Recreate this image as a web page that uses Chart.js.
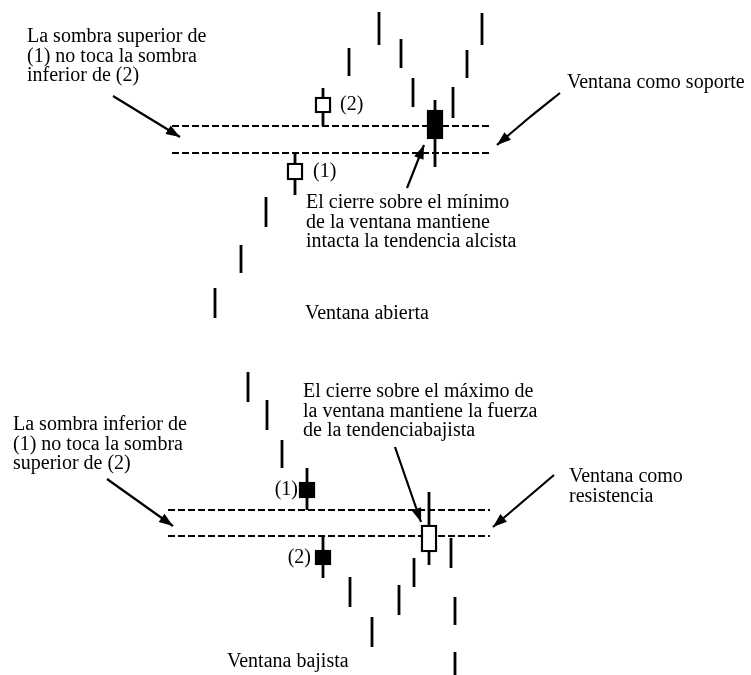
<!DOCTYPE html>
<html>
<head>
<meta charset="utf-8">
<script src="https://cdn.jsdelivr.net/npm/chart.js@4/dist/chart.umd.min.js"></script>
<style>
  html, body { margin: 0; padding: 0; background: #ffffff; }
  #wrap { width: 751px; height: 675px; }
</style>
</head>
<body>
<div id="wrap"><canvas id="c" width="751" height="675"></canvas></div>
<script>
// ---------- DATA (price units) ----------
// Upper panel: rising window ("Ventana abierta") acting as support
const upDays  = [215, 241, 266, 295, 323, 349, 379, 401, 413, 435, 453, 467, 482];
const upHigh  = [387, 430, 478, 522, 587, 627, 663, 636, 597, 575, 588, 625, 662];
const upLow   = [357, 402, 448, 480, 549, 599, 630, 607, 568, 508, 557, 597, 630];
const upBodyDays  = [295, 323, 435];
const upBodyOpen  = [495, 562, 565];
const upBodyClose = [512, 578, 536];

// Lower panel: falling window ("Ventana bajista") acting as resistance
const downDays  = [248, 267, 282, 307, 323, 350, 372, 399, 414, 429, 451, 455, 455];
const downHigh  = [303, 275, 235, 207, 139, 98, 58, 90, 117, 183, 137, 78, 23];
const downLow   = [273, 245, 207, 165, 97, 68, 28, 60, 88, 110, 107, 50, 0];
const downBodyDays  = [307, 323, 429];
const downBodyOpen  = [193, 125, 123];
const downBodyClose = [177, 110, 150];

// Window candles (1) and (2): index in the day arrays
const upGapIdx = [3, 4];     // (1) high / (2) low bound the rising window
const downGapIdx = [3, 4];   // (1) low / (2) high bound the falling window
const upWindowSpan = [172, 492];
const downWindowSpan = [168, 490];

// ---------- ANNOTATIONS ----------
const notes = [
  { x: 27,  y: 633, lines: ["La sombra superior de", "(1) no toca la sombra", "inferior de (2)"] },
  { x: 567, y: 587, lines: ["Ventana como soporte"] },
  { x: 306, y: 467, lines: ["El cierre sobre el mínimo", "de la ventana mantiene", "intacta la tendencia alcista"] },
  { x: 305, y: 356, lines: ["Ventana abierta"] },
  { x: 303, y: 278, lines: ["El cierre sobre el máximo de", "la ventana mantiene la fuerza", "de la tendenciabajista"] },
  { x: 13,  y: 245, lines: ["La sombra inferior de", "(1) no toca la sombra", "superior de (2)"] },
  { x: 569, y: 193, lines: ["Ventana como", "resistencia"] },
  { x: 227, y: 8,   lines: ["Ventana bajista"] },
  { x: 340, y: 565, lines: ["(2)"] },
  { x: 313, y: 498, lines: ["(1)"] },
  { x: 298, y: 180, lines: ["(1)"], align: "right" },
  { x: 311, y: 112, lines: ["(2)"], align: "right" }
];
const arrows = [
  [[113, 579], [180, 538]],
  [[560, 582], [530, 558], [497, 530]],
  [[407, 487], [424, 530]],
  [[107, 196], [173, 149]],
  [[554, 200], [493, 148]],
  [[395, 228], [421, 153]]
];

// ---------- BUILD DATASETS ----------
function wickPoints(days, high, low) {
  const pts = [];
  days.forEach((d, i) => {
    pts.push({ x: d, y: high[i] }, { x: d, y: low[i] }, { x: d, y: null });
  });
  return pts;
}
function bodyPoints(days, open, close) {
  return days.map((d, i) => ({ x: d, y: [open[i], close[i]], up: close[i] > open[i] }));
}
function windowPoints(span, a, b) {
  return [
    { x: span[0], y: a }, { x: span[1], y: a }, { x: span[1], y: null },
    { x: span[0], y: b }, { x: span[1], y: b }
  ];
}
function arrowPoints() {
  const pts = [];
  arrows.forEach(a => { a.forEach(p => pts.push({ x: p[0], y: p[1] })); pts.push({ x: a[0][0], y: null }); });
  return pts;
}

const upWinLow = upHigh[upGapIdx[0]];
const upWinHigh = upLow[upGapIdx[1]];
const dnWinHigh = downLow[downGapIdx[0]];
const dnWinLow = downHigh[downGapIdx[1]];

const bodies = bodyPoints(upBodyDays, upBodyOpen, upBodyClose)
  .concat(bodyPoints(downBodyDays, downBodyOpen, downBodyClose));

const annotPlugin = {
  id: 'annot',
  afterDatasetsDraw(chart) {
    const ctx = chart.ctx, xs = chart.scales.x, ys = chart.scales.y;
    ctx.save();
    ctx.fillStyle = '#000';
    // arrowheads
    arrows.forEach(a => {
      const p1 = a[a.length - 2], p2 = a[a.length - 1];
      const x1 = xs.getPixelForValue(p1[0]), y1 = ys.getPixelForValue(p1[1]);
      const x2 = xs.getPixelForValue(p2[0]), y2 = ys.getPixelForValue(p2[1]);
      const ang = Math.atan2(y2 - y1, x2 - x1);
      const L = 14, W = 5;
      ctx.beginPath();
      ctx.moveTo(x2, y2);
      ctx.lineTo(x2 - L * Math.cos(ang) + W * Math.sin(ang), y2 - L * Math.sin(ang) - W * Math.cos(ang));
      ctx.lineTo(x2 - L * Math.cos(ang) - W * Math.sin(ang), y2 - L * Math.sin(ang) + W * Math.cos(ang));
      ctx.closePath();
      ctx.fill();
    });
    // texts
    ctx.font = '20px "Liberation Serif", "Times New Roman", serif';
    ctx.textBaseline = 'alphabetic';
    notes.forEach(n => {
      ctx.textAlign = n.align || 'left';
      const px = xs.getPixelForValue(n.x);
      n.lines.forEach((t, i) => {
        ctx.fillText(t, px, ys.getPixelForValue(n.y) + i * 19.5);
      });
    });
    ctx.restore();
  }
};

new Chart(document.getElementById('c'), {
  type: 'bar',
  data: {
    datasets: [
      {
        type: 'bar',
        data: bodies,
        barThickness: 16,
        borderWidth: 2.4,
        borderColor: '#000',
        borderSkipped: false,
        backgroundColor: ctx => (ctx.raw && ctx.raw.up) ? '#ffffff' : '#000000',
        grouped: false,
        order: 0
      },
      {
        type: 'line',
        data: wickPoints(upDays, upHigh, upLow).concat(wickPoints(downDays, downHigh, downLow)),
        borderColor: '#000',
        borderWidth: 2.8,
        borderCapStyle: 'butt',
        pointRadius: 0,
        spanGaps: false,
        fill: false,
        order: 1
      },
      {
        type: 'line',
        data: windowPoints(upWindowSpan, upWinLow, upWinHigh).concat([{ x: 0, y: null }])
          .concat(windowPoints(downWindowSpan, dnWinHigh, dnWinLow)),
        borderColor: '#000',
        borderWidth: 1.9,
        borderDash: [7, 3],
        pointRadius: 0,
        spanGaps: false,
        fill: false,
        order: 2
      },
      {
        type: 'line',
        data: arrowPoints(),
        borderColor: '#000',
        borderWidth: 2.2,
        pointRadius: 0,
        tension: 0.2,
        spanGaps: false,
        fill: false,
        order: 1
      }
    ]
  },
  options: {
    responsive: false,
    animation: false,
    devicePixelRatio: 1,
    layout: { padding: 0 },
    plugins: { legend: { display: false }, tooltip: { enabled: false } },
    scales: {
      x: { type: 'linear', min: 0, max: 751, offset: false, display: false },
      y: { type: 'linear', min: 0, max: 675, display: false }
    }
  },
  plugins: [annotPlugin]
});
</script>
</body>
</html>
